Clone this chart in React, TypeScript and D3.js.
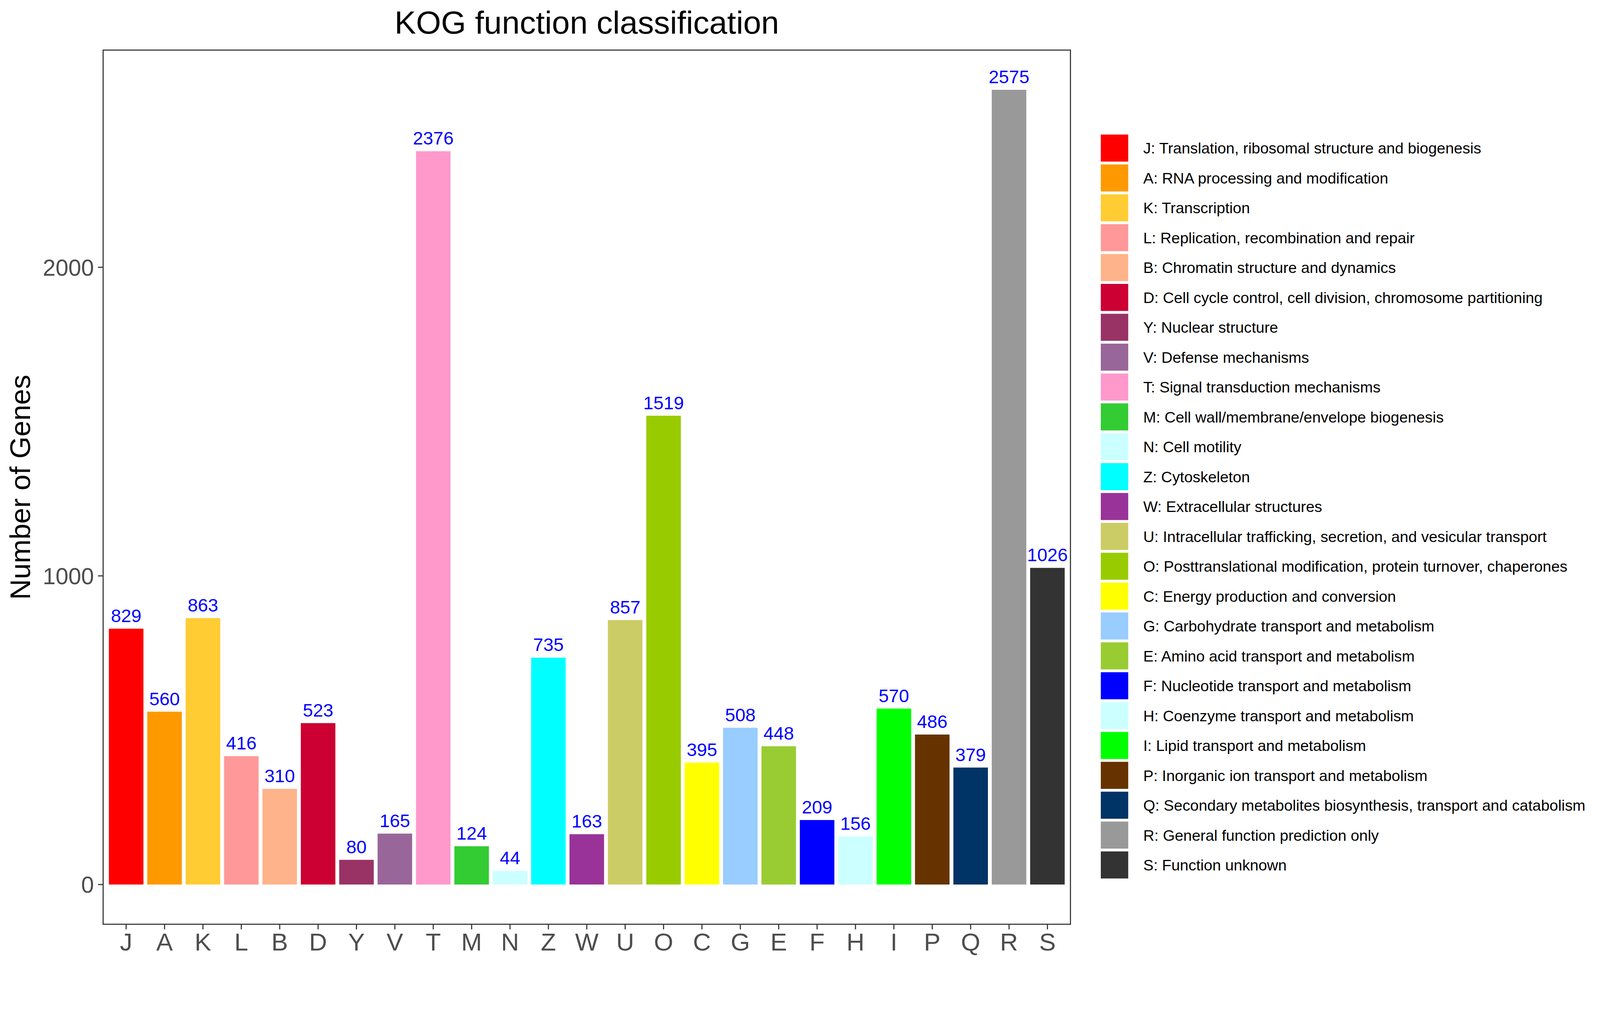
import React, { useEffect } from "react";
import * as d3 from "d3";

// KOG categories in plotting order
const categories = [
  "J", "A", "K", "L", "B", "D", "Y", "V", "T", "M", "N", "Z", "W",
  "U", "O", "C", "G", "E", "F", "H", "I", "P", "Q", "R", "S",
];

const geneCounts = [
  829, 560, 863, 416, 310, 523, 80, 165, 2376, 124, 44, 735, 163,
  857, 1519, 395, 508, 448, 209, 156, 570, 486, 379, 2575, 1026,
];

const categoryColors = [
  "#FF0000", "#FF9900", "#FFCC33", "#FF9999", "#FFB38A", "#CC0033",
  "#993366", "#996699", "#FF99CC", "#33CC33", "#CCFFFF", "#00FFFF",
  "#993399", "#CCCC66", "#99CC00", "#FFFF00", "#99CCFF", "#99CC33",
  "#0000FF", "#CCFFFF", "#00FF00", "#663300", "#003366", "#999999",
  "#333333",
];

const descriptions = [
  "Translation, ribosomal structure and biogenesis",
  "RNA processing and modification",
  "Transcription",
  "Replication, recombination and repair",
  "Chromatin structure and dynamics",
  "Cell cycle control, cell division, chromosome partitioning",
  "Nuclear structure",
  "Defense mechanisms",
  "Signal transduction mechanisms",
  "Cell wall/membrane/envelope biogenesis",
  "Cell motility",
  "Cytoskeleton",
  "Extracellular structures",
  "Intracellular trafficking, secretion, and vesicular transport",
  "Posttranslational modification, protein turnover, chaperones",
  "Energy production and conversion",
  "Carbohydrate transport and metabolism",
  "Amino acid transport and metabolism",
  "Nucleotide transport and metabolism",
  "Coenzyme transport and metabolism",
  "Lipid transport and metabolism",
  "Inorganic ion transport and metabolism",
  "Secondary metabolites biosynthesis, transport and catabolism",
  "General function prediction only",
  "Function unknown",
];

const yTicks = [0, 1000, 2000];

const W = 4375;
const H = 2635;
const panel = { left: 282, right: 2927, top: 137, bottom: 2528 };
const font = "'Liberation Sans', Arial, Helvetica, sans-serif";

export default function App() {
  useEffect(() => {
    document.body.style.margin = "0";
    document.body.style.overflow = "hidden";
  }, []);

  const maxV = d3.max(geneCounts) as number;
  const pad = maxV * 0.05;

  const x = d3
    .scaleBand()
    .domain(categories)
    .range([panel.left, panel.right])
    .paddingInner(0.1)
    .paddingOuter(0.15);

  const y = d3
    .scaleLinear()
    .domain([-pad, maxV + pad])
    .range([panel.bottom, panel.top]);

  const legend = d3
    .scaleBand()
    .domain(categories)
    .range([368, 368 + 81.7 * categories.length]);

  const tickColor = "#333333";

  return (
    <svg
      viewBox={`0 0 ${W} ${H}`}
      preserveAspectRatio="xMidYMin meet"
      style={{ display: "block", width: "100vw", height: "100vh", background: "#fff" }}
      fontFamily={font}
    >
      <rect x={0} y={0} width={W} height={H} fill="#fff" />

      {/* title */}
      <text
        x={(panel.left + panel.right) / 2}
        y={92}
        textAnchor="middle"
        fontSize={88}
        fill="#000"
      >
        KOG function classification
      </text>

      {/* bars */}
      {categories.map((c, i) => (
        <rect
          key={c}
          x={x(c)}
          y={y(geneCounts[i])}
          width={x.bandwidth()}
          height={y(0) - y(geneCounts[i])}
          fill={categoryColors[i]}
        />
      ))}

      {/* value labels */}
      {categories.map((c, i) => (
        <text
          key={"v" + c}
          x={(x(c) as number) + x.bandwidth() / 2}
          y={y(geneCounts[i]) - 18}
          textAnchor="middle"
          fontSize={50}
          fill="#0000FF"
        >
          {geneCounts[i]}
        </text>
      ))}

      {/* panel border */}
      <rect
        x={panel.left}
        y={panel.top}
        width={panel.right - panel.left}
        height={panel.bottom - panel.top}
        fill="none"
        stroke={tickColor}
        strokeWidth={3}
      />

      {/* y axis */}
      {yTicks.map((t) => (
        <g key={"y" + t}>
          <line x1={panel.left - 14} x2={panel.left} y1={y(t)} y2={y(t)} stroke={tickColor} strokeWidth={3} />
          <text
            x={panel.left - 25}
            y={y(t)}
            dy="0.36em"
            textAnchor="end"
            fontSize={63}
            fill="#4D4D4D"
          >
            {t}
          </text>
        </g>
      ))}

      {/* x axis */}
      {categories.map((c) => {
        const cx = (x(c) as number) + x.bandwidth() / 2;
        return (
          <g key={"x" + c}>
            <line x1={cx} x2={cx} y1={panel.bottom} y2={panel.bottom + 14} stroke={tickColor} strokeWidth={3} />
            <text x={cx} y={2600} textAnchor="middle" fontSize={68} fill="#4D4D4D">
              {c}
            </text>
          </g>
        );
      })}

      {/* y axis title */}
      <text
        transform={`translate(82, ${(panel.top + panel.bottom) / 2}) rotate(-90)`}
        textAnchor="middle"
        fontSize={78}
        fill="#000"
      >
        Number of Genes
      </text>

      {/* legend */}
      {categories.map((c, i) => (
        <g key={"l" + c}>
          <rect x={3010} y={legend(c)} width={75} height={74} fill={categoryColors[i]} />
          <text
            x={3126}
            y={(legend(c) as number) + 37}
            dy="0.36em"
            fontSize={42}
            fill="#000"
          >
            {c}: {descriptions[i]}
          </text>
        </g>
      ))}
    </svg>
  );
}
